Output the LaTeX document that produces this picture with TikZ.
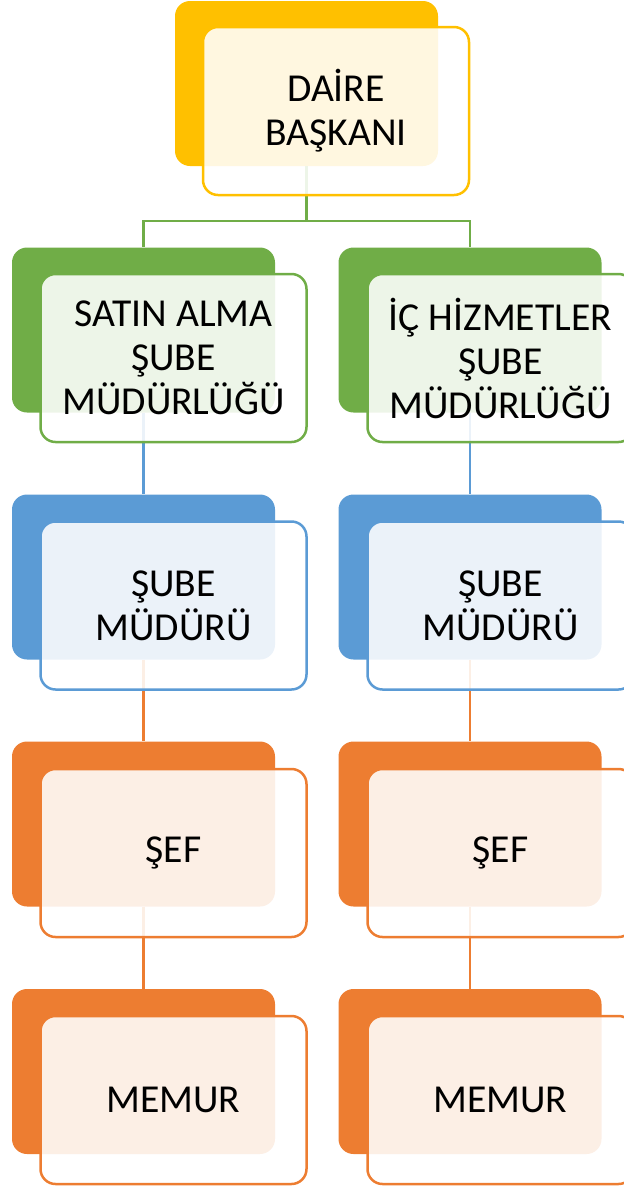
\documentclass[tikz,border=0pt]{standalone}
\usepackage{fontspec}
\setmainfont{Carlito}
\usetikzlibrary{positioning}
\definecolor{gold1}{HTML}{FFC000}
\definecolor{green1}{HTML}{70AD47}
\definecolor{blue1}{HTML}{5B9BD5}
\definecolor{orange1}{HTML}{ED7D31}
\tikzset{
  backbox/.style={fill=#1, rounded corners=15pt, minimum width=263pt, minimum height=165pt, inner sep=0pt},
  frontbox/.style={draw=#1, line width=2.5pt, rounded corners=15pt, fill=white, fill opacity=0.88, text opacity=1,
    minimum width=266pt, minimum height=168pt, inner sep=0pt, align=center, font=\fontsize{39.6}{44}\selectfont},
  conn/.style={draw=#1, line width=2.5pt}
}

\begin{document}
\begin{tikzpicture}[x=1pt, y=-1pt]
  \clip (0,0) rectangle (624,1187);

  % Back boxes
  \node[backbox=gold1] (dbBack) at (306.5, 83.5) {};
  \node[backbox=green1] (saBack) at (143.5, 330) {};
  \node[backbox=green1] (ihBack) at (470, 330) {};
  \node[backbox=blue1] (saMudBack) at (143.5, 577) {};
  \node[backbox=blue1] (ihMudBack) at (470, 577) {};
  \node[backbox=orange1] (saSefBack) at (143.5, 824) {};
  \node[backbox=orange1] (ihSefBack) at (470, 824) {};
  \node[backbox=orange1] (saMemBack) at (143.5, 1071.5) {};
  \node[backbox=orange1] (ihMemBack) at (470, 1071.5) {};

  % Connectors
  \draw[conn=green1] (dbBack.south) -- ++(0,55) -| (saBack.north);
  \draw[conn=green1] (dbBack.south) -- ++(0,55) -| (ihBack.north);
  \draw[conn=blue1] (saBack.south) -- (saMudBack.north);
  \draw[conn=blue1] (ihBack.south) -- (ihMudBack.north);
  \draw[conn=orange1] (saMudBack.south) -- (saSefBack.north);
  \draw[conn=orange1] (ihMudBack.south) -- (ihSefBack.north);
  \draw[conn=orange1] (saSefBack.south) -- (saMemBack.north);
  \draw[conn=orange1] (ihSefBack.south) -- (ihMemBack.north);

  % Front boxes
  \node[frontbox=gold1] (dbFront) at (336, 111) {DAİRE\\BAŞKANI};
  \node[frontbox=green1] (saFront) at (173.5, 358) {SATIN ALMA\\ŞUBE\\MÜDÜRLÜĞÜ};
  \node[frontbox=green1] (ihFront) at (500.5, 358) {İÇ HİZMETLER\\ŞUBE\\MÜDÜRLÜĞÜ};
  \node[frontbox=blue1] (saMudFront) at (173.5, 605.5) {ŞUBE\\MÜDÜRÜ};
  \node[frontbox=blue1] (ihMudFront) at (500.5, 605.5) {ŞUBE\\MÜDÜRÜ};
  \node[frontbox=orange1] (saSefFront) at (173.5, 853) {ŞEF};
  \node[frontbox=orange1] (ihSefFront) at (500.5, 853) {ŞEF};
  \node[frontbox=orange1] (saMemFront) at (173.5, 1100) {MEMUR};
  \node[frontbox=orange1] (ihMemFront) at (500.5, 1100) {MEMUR};
\end{tikzpicture}
\end{document}
